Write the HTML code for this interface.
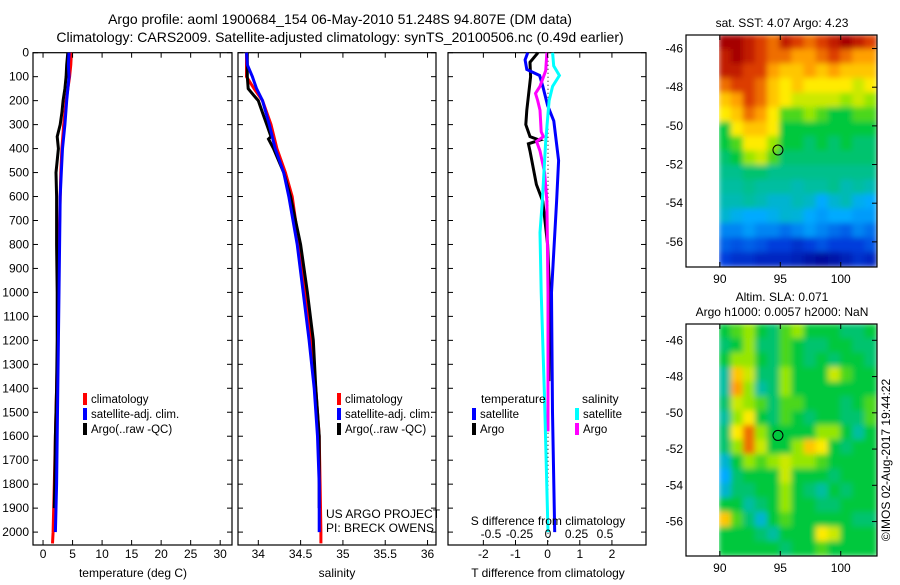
<!DOCTYPE html>
<html><head><meta charset="utf-8">
<style>
body{margin:0;background:#fff;width:900px;height:580px;overflow:hidden}
svg{font-family:"Liberation Sans",sans-serif}
</style></head>
<body>
<svg id="chart" width="900" height="580" viewBox="0 0 900 580" xmlns="http://www.w3.org/2000/svg">
<defs><filter id="blur" x="0" y="0" width="1" height="1"><feGaussianBlur stdDeviation="2.8"/></filter>
<clipPath id="clipTop"><rect x="719" y="35" width="158" height="232"/></clipPath>
<clipPath id="clipBot"><rect x="719" y="324" width="158" height="232"/></clipPath></defs>
<text x="340" y="24" font-size="14" text-anchor="middle">Argo profile: aoml 1900684_154 06-May-2010 51.248S 94.807E (DM data)</text>
<text x="340" y="42" font-size="14" text-anchor="middle">Climatology: CARS2009. Satellite-adjusted climatology: synTS_20100506.nc (0.49d earlier)</text>
</svg>
<script>
// depth grid
const depthTicks=[0,100,200,300,400,500,600,700,800,900,1000,1100,1200,1300,1400,1500,1600,1700,1800,1900,2000];
// temperature
const tClimDepth=[0,50,100,200,300,400,500,600,800,1000,1200,1400,1600,1800,2000,2047];
const tClim=[4.8,4.7,4.5,3.9,3.5,3.2,3.0,2.9,2.7,2.6,2.5,2.3,2.1,1.9,1.7,1.6];
const tSatDepth=[0,50,100,200,300,400,500,600,800,1000,1200,1400,1600,1800,2000];
const tSat=[4.4,4.3,4.4,4.0,3.7,3.3,3.1,2.9,2.8,2.7,2.6,2.5,2.4,2.3,2.1];
const tArgoDepth=[0,50,100,150,200,250,300,350,400,500,600,800,1000,1200,1400,1600,1800,1900];
const tArgo=[4.2,4.0,3.9,3.7,3.4,3.2,2.9,2.4,2.6,2.2,2.3,2.3,2.4,2.4,2.3,2.1,2.0,1.9];
const tTicks=[0,5,10,15,20,25,30];
// salinity
const sClimDepth=[0,100,150,200,300,400,500,600,800,1000,1200,1400,1600,1800,2000,2047];
const sClim=[33.86,33.86,33.95,34.05,34.15,34.22,34.32,34.4,34.48,34.55,34.62,34.68,34.72,34.73,34.74,34.74];
const sSatDepth=[0,50,100,150,200,300,400,500,600,800,1000,1200,1400,1600,1800,2000];
const sSat=[33.86,33.87,33.93,33.98,34.05,34.13,34.2,34.3,34.36,34.46,34.53,34.6,34.66,34.7,34.72,34.72];
const sArgoDepth=[0,100,150,180,200,250,300,350,360,400,500,600,800,1000,1200,1400,1600,1900];
const sArgo=[33.87,33.87,33.88,33.95,34.0,34.05,34.1,34.15,34.12,34.18,34.3,34.38,34.5,34.58,34.65,34.68,34.72,34.72];
const sTicks=[34,34.5,35,35.5,36];
// differences
const dTSatDepth=[0,30,70,95,140,220,285,450,620,1000,1500,2000];
const dTSat=[-0.62,-0.7,-0.65,-0.25,-0.15,0,0.19,0.34,0.28,0.12,0.15,0.22];
const dTArgoDepth=[0,40,100,240,300,350,365,380,410,550,620,800,1000,1370];
const dTArgo=[-0.3,-0.55,-0.53,-0.65,-0.68,-0.55,-0.25,-0.6,-0.55,-0.35,-0.15,0.0,0.06,0.04];
const dSSatDepth=[0,55,95,140,200,370,620,750,1000,1450,2000];
const dSSat=[0.04,0.05,0.1,0.04,0.01,-0.02,-0.05,-0.07,-0.06,-0.03,0.0];
const dSArgoDepth=[0,75,140,170,200,240,330,350,370,410,500,620,1000,1580];
const dSArgo=[-0.01,-0.02,-0.07,-0.11,-0.09,-0.07,-0.06,-0.04,-0.10,-0.07,-0.03,-0.01,0.0,0.0];
const dTTicks=[-2,-1,0,1,2];
const dSTicks=[-0.5,-0.25,0,0.25,0.5];
const dSTickLabels=["-0.5","-0.25","0","0.25","0.5"];
// maps
const sstGrid=[
[1,1,.95,.9,.85,.95,.9,.85,.9,.95,1,.95,.9],
[.95,1,.95,.9,.85,.85,.8,.8,.85,.9,.85,.8,.8],
[.95,.95,.9,.9,.8,.75,.75,.8,.75,.8,.75,.75,.75],
[.85,.9,.9,.85,.75,.7,.75,.7,.7,.7,.7,.65,.7],
[.75,.8,.9,.85,.75,.7,.65,.65,.65,.65,.6,.65,.6],
[.7,.75,.85,.8,.7,.55,.55,.6,.55,.5,.5,.55,.55],
[.5,.7,.75,.75,.7,.5,.5,.5,.5,.5,.5,.5,.5],
[.5,.55,.7,.7,.6,.5,.5,.45,.5,.45,.5,.45,.45],
[.45,.5,.6,.65,.55,.45,.45,.45,.45,.45,.45,.45,.45],
[.42,.42,.45,.45,.42,.42,.42,.42,.42,.42,.42,.42,.42],
[.4,.4,.42,.4,.4,.4,.38,.4,.4,.42,.38,.4,.38],
[.38,.38,.4,.38,.35,.35,.38,.36,.3,.35,.38,.32,.3],
[.35,.32,.3,.3,.32,.35,.34,.3,.28,.3,.3,.28,.28],
[.25,.25,.28,.25,.25,.22,.25,.28,.25,.22,.2,.25,.22],
[.2,.18,.2,.18,.15,.15,.12,.15,.18,.15,.15,.15,.18],
[.15,.12,.12,.1,.1,.1,.08,.05,.03,.05,.08,.12,.1]];
const slaGrid=[
[.5,.55,.6,.5,.45,.55,.6,.5,.5,.5,.45,.45,.5],
[.45,.5,.6,.45,.45,.55,.5,.45,.45,.5,.5,.45,.45],
[.5,.6,.6,.5,.45,.55,.5,.45,.5,.45,.5,.5,.45],
[.4,.75,.65,.45,.45,.6,.5,.5,.5,.65,.55,.5,.5],
[.4,.8,.6,.4,.45,.6,.5,.5,.5,.5,.5,.5,.5],
[.45,.65,.6,.55,.45,.55,.55,.5,.5,.5,.45,.5,.55],
[.4,.6,.7,.5,.45,.55,.5,.45,.5,.5,.45,.45,.55],
[.45,.7,.85,.6,.5,.5,.5,.5,.6,.6,.5,.4,.5],
[.45,.6,.85,.65,.5,.5,.6,.75,.7,.5,.45,.5,.5],
[.35,.5,.6,.55,.6,.65,.6,.6,.55,.5,.5,.5,.5],
[.3,.45,.5,.5,.5,.65,.5,.5,.5,.45,.5,.5,.5],
[.35,.45,.45,.5,.5,.6,.5,.45,.4,.5,.45,.5,.5],
[.5,.5,.4,.45,.5,.6,.5,.5,.45,.45,.5,.5,.5],
[.75,.55,.45,.35,.5,.55,.5,.5,.5,.5,.5,.45,.45],
[.5,.5,.5,.45,.4,.5,.5,.5,.7,.65,.5,.5,.5],
[.5,.5,.5,.5,.5,.45,.5,.5,.55,.5,.5,.5,.5]];
const lonTicks=[90,95,100];
const latTicks=[-46,-48,-50,-52,-54,-56];
const floatLon=94.807, floatLat=-51.248;

const NS="http://www.w3.org/2000/svg";
const svg=document.getElementById('chart');
function el(tag,attrs,parent){const e=document.createElementNS(NS,tag);for(const k in attrs)e.setAttribute(k,attrs[k]);(parent||svg).appendChild(e);return e;}
function txt(x,y,s,size,anchor,parent){const t=el('text',{x:x,y:y,'font-size':size,'text-anchor':anchor||'middle'},parent);t.textContent=s;return t;}

const yTop=52.7, yBot=545, dPx=0.2397;
const yD=d=>yTop+d*dPx;

function panel(name,x0,x1,dmin,dmax){
  const g=el('g',{});
  
  
  el('rect',{x:x0,y:yTop,width:x1-x0,height:yBot-yTop,fill:'none',stroke:'#000','stroke-width':1.2},g);
  return {g:g,x:v=>x0+(v-dmin)/(dmax-dmin)*(x1-x0)};
}
function line(g,xf,xs,ds,color,name,w){
  const p=el('path',{d:xs.map((v,i)=>(i?'L':'M')+xf(v).toFixed(1)+','+yD(ds[i]).toFixed(1)).join(''),fill:'none',stroke:color,'stroke-width':w||3},g);
  
  
}
function xticks(g,xf,ticks,labels,y){
  ticks.forEach((t,i)=>{const X=xf(t);
    el('line',{x1:X,x2:X,y1:yBot,y2:yBot-5,stroke:'#000'},g);
    el('line',{x1:X,x2:X,y1:yTop,y2:yTop+5,stroke:'#000'},g);
    const lt=txt(X,y,labels?labels[i]:String(t),12,'middle',g);
    
    
  });
}
function legend(g,x,y,items){
  items.forEach((it,i)=>{
    el('rect',{x:x,y:y+i*15-10,width:4,height:12,fill:it[0]},g);
    const t=txt(x+8,y+i*15,it[1],11.5,'start',g);
    
    
  });
}
// Panel 1 temperature
const P1=panel('temperature-panel',33,232,-1.7,32);
depthTicks.forEach(d=>{const Y=yD(d);
  el('line',{x1:33,x2:38,y1:Y,y2:Y,stroke:'#000'},P1.g);el('line',{x1:227,x2:232,y1:Y,y2:Y,stroke:'#000'},P1.g);
  el('line',{x1:238,x2:243,y1:Y,y2:Y,stroke:'#000'},P1.g);el('line',{x1:431,x2:436,y1:Y,y2:Y,stroke:'#000'},P1.g);
  el('line',{x1:448,x2:453,y1:Y,y2:Y,stroke:'#000'},P1.g);el('line',{x1:641,x2:646,y1:Y,y2:Y,stroke:'#000'},P1.g);
  const t=txt(29,Y+4,String(d),12,'end');
  
  
});
line(P1.g,P1.x,tClim,tClimDepth,'#f00','temp-climatology-line');
line(P1.g,P1.x,tArgo,tArgoDepth,'#000','temp-argo-line');
line(P1.g,P1.x,tSat,tSatDepth,'#00f','temp-satellite-line');
xticks(P1.g,P1.x,tTicks,null,558);
txt(133,577,'temperature (deg C)',12,'middle',P1.g);
legend(P1.g,83,403,[['#f00','climatology'],['#00f','satellite-adj. clim.'],['#000','Argo(..raw -QC)']]);
// Panel 2 salinity
const P2=panel('salinity-panel',238,436,33.76,36.1);
line(P2.g,P2.x,sClim,sClimDepth,'#f00','sal-climatology-line');
line(P2.g,P2.x,sArgo,sArgoDepth,'#000','sal-argo-line');
line(P2.g,P2.x,sSat,sSatDepth,'#00f','sal-satellite-line');
xticks(P2.g,P2.x,sTicks,null,558);
txt(337,577,'salinity',12,'middle',P2.g);
legend(P2.g,337,403,[['#f00','climatology'],['#00f','satellite-adj. clim.'],['#000','Argo(..raw -QC)']]);
txt(326,518,'US ARGO PROJECT',12,'start',P2.g);
txt(326,532,'PI: BRECK OWENS',12,'start',P2.g);
// Panel 3 differences
const P3=panel('difference-panel',448,646,-3.1,3.06);
const xS=v=>548+v*114;
el('line',{x1:548,x2:548,y1:yTop,y2:yBot,stroke:'#000','stroke-dasharray':'1,3'},P3.g);
line(P3.g,P3.x,dTArgo,dTArgoDepth,'#000','tdiff-argo-line');
line(P3.g,P3.x,dTSat,dTSatDepth,'#00f','tdiff-satellite-line');
line(P3.g,xS,dSArgo,dSArgoDepth,'#f0f','sdiff-argo-line');
line(P3.g,xS,dSSat,dSSatDepth,'#0ff','sdiff-satellite-line');
xticks(P3.g,P3.x,dTTicks,null,558);
dSTicks.forEach((t,i)=>{const l=txt(xS(t),538,dSTickLabels[i],12,'middle',P3.g);});
txt(548,525,'S difference from climatology',12,'middle',P3.g);
txt(548,577,'T difference from climatology',12,'middle',P3.g);
txt(481,403,'temperature',12,'start',P3.g);
txt(582,403,'salinity',12,'start',P3.g);
legend(P3.g,472,418,[['#00f','satellite'],['#000','Argo']]);
legend(P3.g,575,418,[['#0ff','satellite'],['#f0f','Argo']]);
// colormap
const stops=[[0,[0,0,140]],[.15,[0,60,220]],[.3,[0,170,255]],[.4,[0,190,160]],[.5,[0,200,60]],[.6,[150,230,0]],[.7,[255,235,0]],[.8,[255,160,0]],[.9,[220,60,0]],[1,[165,0,0]]];
function cmap(v){for(let i=1;i<stops.length;i++){if(v<=stops[i][0]){const a=stops[i-1],b=stops[i],f=(v-a[0])/(b[0]-a[0]);return 'rgb('+a[1].map((c,k)=>Math.round(c+(b[1][k]-c)*f)).join(',')+')';}}return 'rgb(165,0,0)';}
function map(name,grid,y0,y1,latTop,latBot,clip,title){
  const g=el('g',{});
  
  
  const lonL=87.2,lonR=103.0,x0=686,x1=877;
  const X=l=>x0+(l-lonL)/(lonR-lonL)*(x1-x0);
  const Y=la=>y0+(latTop-la)/(latTop-latBot)*(y1-y0);
  const cg=el('g',{'clip-path':'url(#'+clip+')'},g);
  const ig=el('g',{filter:'url(#blur)'},cg);
  const nr=grid.length,nc=grid[0].length,cw=(877-719)/nc,ch=(y1-y0)/nr;
  grid.forEach((row,r)=>row.forEach((v,c)=>{
    const cell=el('rect',{x:719+c*cw-0.5,y:y0+r*ch-0.5,width:cw+1,height:ch+1,fill:cmap(v)},ig);
    
    
  }));
  el('rect',{x:x0,y:y0,width:x1-x0,height:y1-y0,fill:'none',stroke:'#000','stroke-width':1.2},g);
  lonTicks.forEach(l=>{el('line',{x1:X(l),x2:X(l),y1:y0,y2:y0+5,stroke:'#000'},g);el('line',{x1:X(l),x2:X(l),y1:y1,y2:y1-5,stroke:'#000'},g);txt(X(l),y1+16,String(l),12,'middle',g);});
  latTicks.forEach(la=>{el('line',{x1:x1,x2:x1-5,y1:Y(la),y2:Y(la),stroke:'#000'},g);txt(x0-3,Y(la)+4,String(la),12,'end',g);});
  const c=el('circle',{cx:X(floatLon),cy:Y(floatLat),r:5,fill:'none',stroke:'#000','stroke-width':1},g);
  
  
  title.forEach((t,i)=>txt(782,y0-8-(title.length-1-i)*15,t,12,'middle',g));
  return g;
}
map('sst-map',sstGrid,35,267,-45.3,-57.3,'clipTop',['sat. SST: 4.07 Argo: 4.23']);
map('sla-map',slaGrid,324,556,-45.1,-57.9,'clipBot',['Altim. SLA: 0.071','Argo h1000: 0.0057 h2000: NaN']);
const ts=txt(0,0,'©IMOS 02-Aug-2017 19:44:22',12,'middle');
ts.setAttribute('transform','translate(890,460) rotate(-90)');


</script>
</body></html>
